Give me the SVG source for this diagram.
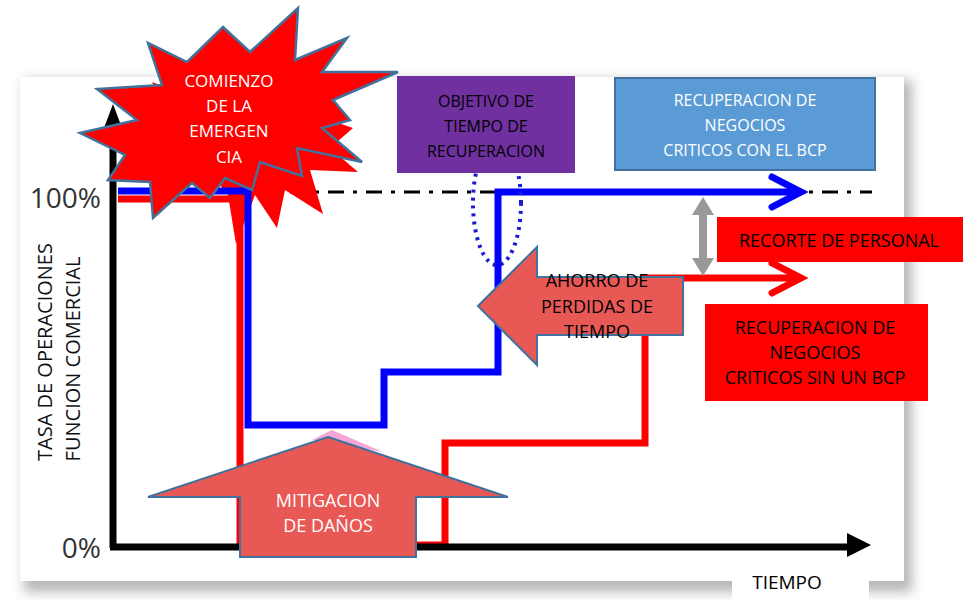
<svg xmlns="http://www.w3.org/2000/svg" width="964" height="601" viewBox="0 0 964 601">
<defs>
<filter id="sh" x="-5%" y="-5%" width="110%" height="115%"><feGaussianBlur stdDeviation="6"/></filter>
<style>
text{font-family:"Open Sans","Liberation Sans",sans-serif;text-anchor:middle}
.w{fill:#fff}.k{fill:#000}
.ln{fill:none;stroke-width:7;stroke-linejoin:miter}
.blk{fill:#e85855;stroke:#41719c;stroke-width:2}
</style>
</defs>
<rect width="964" height="601" fill="#fff"/>
<g id="frame">
<rect x="24" y="80" width="888" height="512" fill="#b8b8b8" filter="url(#sh)"/>
<rect x="20" y="77" width="884" height="504" fill="#fff"/>
</g>
<g id="connectors">
<path d="M290,192 H872" stroke="#000" stroke-width="3" stroke-dasharray="16 9 4 9" fill="none"/>
<polygon points="152,82 200,100 240,95 300,110 353,128 330,148 358,172 310,170 323,214 285,190 277,228 255,195 236,244 228,195 200,160 170,120" fill="#ff0000"/>
<path class="ln" stroke="#ff0000" d="M118,199 H240 V545 H445 V443 H645 V278 H798"/>
<path class="ln" stroke="#ff0000" stroke-linecap="round" d="M772,263 L801,278 L772,293"/>
<path class="ln" stroke="#0000ff" d="M118,191 H248 V425 H384 V372 H498 V192 H798"/>
<path class="ln" stroke="#0000ff" stroke-linecap="round" d="M772,177 L801,192 L772,207"/>
<g fill="#999">
<rect x="699" y="210" width="8" height="54"/>
<polygon points="703,197 692,215 714,215"/>
<polygon points="703,276 692,258 714,258"/>
</g>
<ellipse cx="497" cy="203" rx="24" ry="62" fill="none" stroke="#1a1ad0" stroke-width="4" stroke-dasharray="3 5"/>
<path d="M113,548 V122" stroke="#000" stroke-width="7"/>
<polygon points="113,104 104,128 122,128" fill="#000"/>
<path d="M110,547 H850" stroke="#000" stroke-width="7"/>
<polygon points="871,545 847,533 847,557" fill="#000"/>
</g>
<g id="ylabel">
<rect x="20" y="217" width="80" height="268" fill="#fff"/>
<text transform="translate(52,352) rotate(-90)" font-size="20" fill="#111">TASA  DE OPERACIONES</text>
<text transform="translate(80,359) rotate(-90)" font-size="20" fill="#111">FUNCION COMERCIAL</text>
<text x="101" y="208" font-size="28" fill="#333" style="text-anchor:end">100%</text>
<text x="101" y="558" font-size="28" fill="#333" style="text-anchor:end">0%</text>
</g>
<g id="emergencia">
<polygon points="223,27 250,52 298,8 295,60 347,38 322,72 398,72 333,100 350,120 322,128 362,162 297,148 302,176 260,162 252,190 225,178 210,198 192,183 153,218 150,182 108,180 125,155 80,133 137,120 97,89 162,85 148,43 187,62" fill="#ff0000" stroke="#41719c" stroke-width="2.5" stroke-linejoin="miter"/>
<text class="w" x="229" y="87" font-size="17">COMIENZO</text>
<text class="w" x="229" y="112" font-size="17">DE LA</text>
<text class="w" x="229" y="137" font-size="17">EMERGEN</text>
<text class="w" x="229" y="163" font-size="17">CIA</text>
</g>
<g id="objetivo">
<rect x="397" y="76" width="178" height="97" fill="#7030a0"/>
<text class="k" x="486" y="107" font-size="16">OBJETIVO DE</text>
<text class="k" x="486" y="132" font-size="16">TIEMPO DE</text>
<text class="k" x="486" y="157" font-size="16">RECUPERACION</text>
</g>
<g id="con-bcp">
<rect x="615" y="78" width="260" height="92" fill="#5b9bd5" stroke="#41719c" stroke-width="2"/>
<text class="w" x="745" y="106" font-size="16">RECUPERACION DE</text>
<text class="w" x="745" y="131" font-size="16">NEGOCIOS</text>
<text class="w" x="745" y="156" font-size="16">CRITICOS CON EL BCP</text>
</g>
<g id="recorte">
<rect x="717" y="217" width="246" height="45" fill="#ff0000"/>
<text class="k" x="839" y="247" font-size="18">RECORTE DE PERSONAL</text>
</g>
<g id="sin-bcp">
<rect x="705" y="304" width="223" height="97" fill="#ff0000"/>
<text class="k" x="815" y="334" font-size="18">RECUPERACION DE</text>
<text class="k" x="815" y="359" font-size="18">NEGOCIOS</text>
<text class="k" x="815" y="384" font-size="18">CRITICOS SIN UN BCP</text>
</g>
<g id="ahorro">
<polygon class="blk" points="478,306 537,247 537,277 683,277 683,335 537,335 537,365"/>
<text class="k" x="597" y="287" font-size="18">AHORRO DE</text>
<text class="k" x="597" y="313" font-size="18">PERDIDAS DE</text>
<text class="k" x="597" y="338" font-size="18">TIEMPO</text>
</g>
<g id="mitigacion">
<polygon points="312,440 332,430 383,452" fill="#f4a6d7"/>
<polygon class="blk" points="328,437 508,497 416,497 416,557 240,557 240,497 148,497"/>
<text class="w" x="328" y="507" font-size="18">MITIGACION</text>
<text class="w" x="328" y="532" font-size="18">DE DAÑOS</text>
</g>
<g id="tiempo">
<rect x="732" y="562" width="137" height="39" fill="#fff"/>
<text class="k" x="787" y="589" font-size="19">TIEMPO</text>
</g>
</svg>
